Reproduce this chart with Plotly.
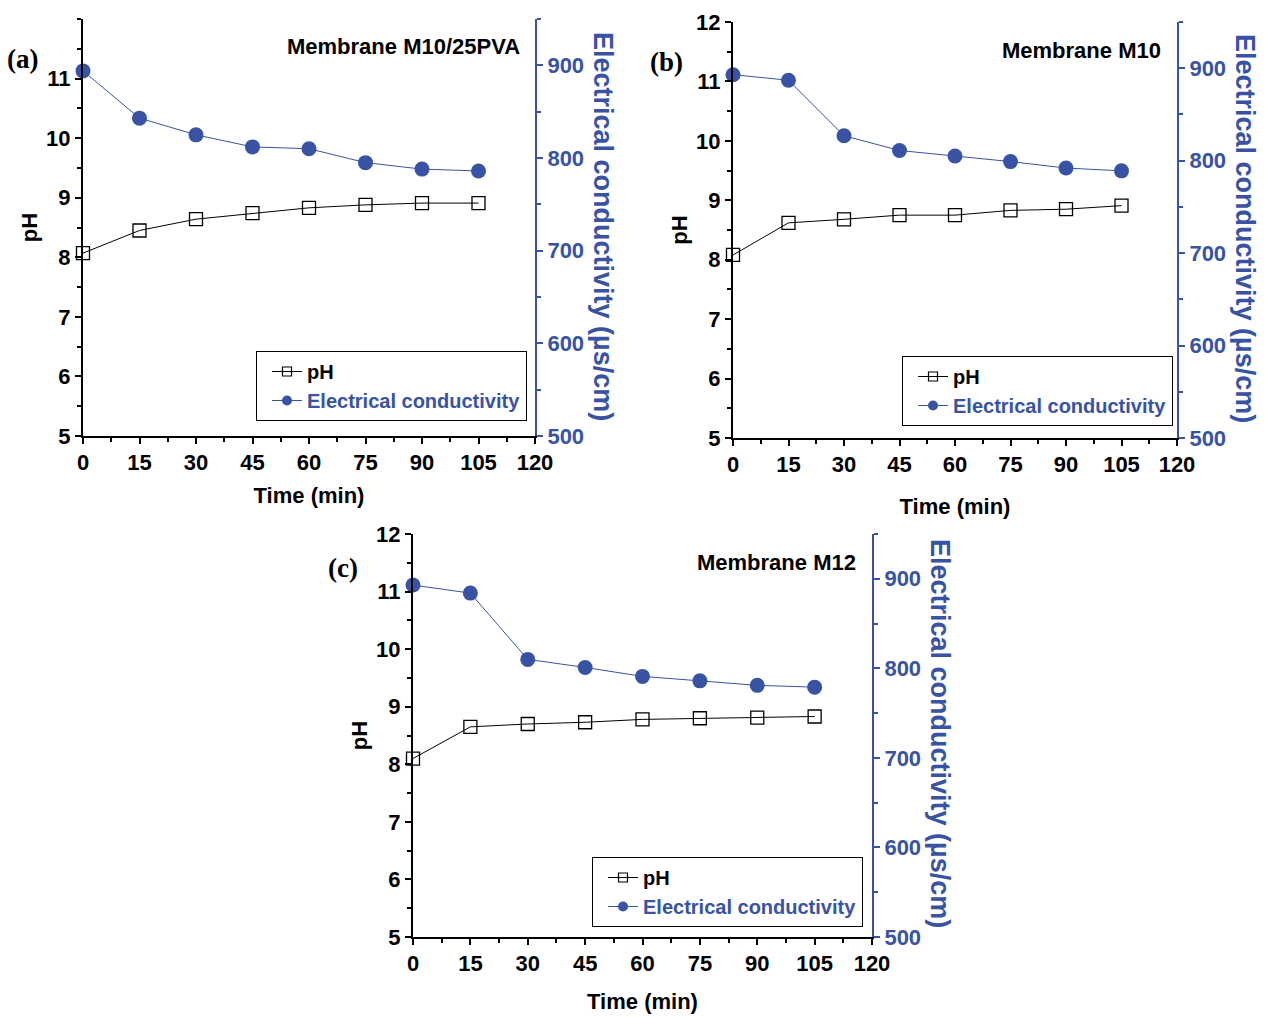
import plotly.graph_objects as go

# Sampling times (min)
time_min = [0, 15, 30, 45, 60, 75, 90, 105]

# Membrane M10/25PVA
ph_m10_25pva = [8.07, 8.45, 8.64, 8.74, 8.83, 8.88, 8.91, 8.91]
ec_m10_25pva = [894, 843, 825, 812, 810, 795, 788, 786]

# Membrane M10
ph_m10 = [8.08, 8.62, 8.68, 8.75, 8.75, 8.83, 8.85, 8.91]
ec_m10 = [893, 887, 827, 811, 805, 799, 792, 789]

# Membrane M12
ph_m12 = [8.10, 8.65, 8.70, 8.73, 8.78, 8.80, 8.81, 8.83]
ec_m12 = [893, 884, 810, 801, 791, 786, 781, 779]

panel_letters = ["(a)", "(b)", "(c)"]
membrane_names = ["Membrane M10/25PVA", "Membrane M10", "Membrane M12"]
ph_series = [ph_m10_25pva, ph_m10, ph_m12]
ec_series = [ec_m10_25pva, ec_m10, ec_m12]
x_ticks = [0, 15, 30, 45, 60, 75, 90, 105, 120]
ph_ticks_a = [5, 6, 7, 8, 9, 10, 11]
ph_ticks_bc = [5, 6, 7, 8, 9, 10, 11, 12]
ec_ticks = [500, 600, 700, 800, 900]

W, H = 1266, 1019
BLUE = "#3953a4"
SANS = "Liberation Sans, Arial, sans-serif"
SERIF = "Liberation Serif, Times New Roman, serif"


def px_x(v):
    return v / W


def px_y(v):
    return 1 - v / H


# plot-area boxes in pixels: (left, right, top, bottom)
boxes = [(83, 535, 19, 436), (733, 1177, 22, 438), (413, 872, 534, 937)]
legend_pos = [(256, 421), (902, 426), (592, 927)]
letter_pos = [(22, 59), (666, 62), (343, 568)]
name_pos = [(522, 47), (1163, 50), (858, 562)]
ec_title_pos = [(603, 226), (1245, 228), (940, 733)]
time_standoff = [13, 22, 18]

tick_font = dict(family=SANS, size=22, color="black", weight="bold")
title_font = dict(family=SANS, size=22, color="black", weight="bold")

fig = go.Figure()
layout = dict(
    width=W, height=H,
    margin=dict(l=0, r=0, t=0, b=0),
    paper_bgcolor="white", plot_bgcolor="white",
    showlegend=True,
    annotations=[],
)

for i in range(3):
    left, right, top, bottom = boxes[i]
    xb_key = "xaxis" if i == 0 else f"xaxis{2*i+1}"
    yl_key = "yaxis" if i == 0 else f"yaxis{2*i+1}"
    xb_ref = "x" if i == 0 else f"x{2*i+1}"
    yl_ref = "y" if i == 0 else f"y{2*i+1}"
    yr_ref = f"y{2*i+2}"
    leg = "legend" if i == 0 else f"legend{i+1}"

    layout[xb_key] = dict(
        domain=[px_x(left), px_x(right)], anchor=yl_ref, range=[0, 120],
        automargin=False,
        tickvals=x_ticks, ticks="outside", ticklen=6, tickwidth=2, tickcolor="black",
        showline=True, linecolor="black", linewidth=2, showgrid=False, zeroline=False,
        tickfont=tick_font,
        minor=dict(dtick=7.5, tick0=0, ticks="outside", ticklen=4, tickwidth=2, tickcolor="black"),
        title=dict(text="Time (min)", font=title_font, standoff=time_standoff[i]),
    )
    layout[f"xaxis{2*i+2}"] = dict(
        overlaying=xb_ref, side="top", anchor=yl_ref, range=[0, 120],
        automargin=False,
        tickvals=x_ticks, ticks="inside", ticklen=6, tickwidth=2, tickcolor="black",
        showticklabels=False, showline=True, linecolor="black", linewidth=2,
        showgrid=False, zeroline=False,
        minor=dict(dtick=7.5, tick0=0, ticks="inside", ticklen=4, tickwidth=2, tickcolor="black"),
    )
    layout[yl_key] = dict(
        domain=[px_y(bottom), px_y(top)], anchor=xb_ref, range=[5, 12],
        automargin=False,
        tickvals=ph_ticks_a if i == 0 else ph_ticks_bc,
        ticks="outside", ticklen=6, tickwidth=2, tickcolor="black",
        showline=True, linecolor="black", linewidth=2, showgrid=False, zeroline=False,
        tickfont=tick_font,
        minor=dict(dtick=0.5, tick0=5, ticks="outside", ticklen=4, tickwidth=2, tickcolor="black"),
        title=dict(text="pH", font=title_font, standoff=2),
    )
    layout[f"yaxis{2*i+2}"] = dict(
        overlaying=yl_ref, side="right", anchor=xb_ref, range=[500, 950],
        automargin=False,
        tickvals=ec_ticks, ticks="outside", ticklen=6, tickwidth=2, tickcolor=BLUE,
        showline=True, linecolor=BLUE, linewidth=2, showgrid=False, zeroline=False,
        tickfont=dict(family=SANS, size=22, color=BLUE, weight="bold"),
        minor=dict(dtick=50, tick0=500, ticks="outside", ticklen=4, tickwidth=2, tickcolor=BLUE),
    )

    lx, lb = legend_pos[i]
    layout[leg] = dict(
        x=px_x(lx), y=px_y(lb), xanchor="left", yanchor="bottom",
        bgcolor="white", bordercolor="black", borderwidth=1,
        font=dict(family=SANS, size=20, color="black", weight="bold"),
        indentation=10, tracegroupgap=0, itemwidth=30,
    )

    # measured series
    fig.add_trace(go.Scatter(
        x=time_min, y=ph_series[i], xaxis=xb_ref, yaxis=yl_ref,
        mode="lines+markers", name="pH", showlegend=False,
        line=dict(color="black", width=1),
        marker=dict(symbol="square-open", size=13, color="black", line=dict(width=1.3)),
        cliponaxis=False,
    ))
    fig.add_trace(go.Scatter(
        x=time_min, y=ec_series[i], xaxis=xb_ref, yaxis=yr_ref,
        mode="lines+markers", name="Electrical conductivity", showlegend=False,
        line=dict(color=BLUE, width=1),
        marker=dict(symbol="circle", size=15, color=BLUE),
        cliponaxis=False,
    ))
    # legend keys with small symbols
    fig.add_trace(go.Scatter(
        x=[None], y=[None], xaxis=xb_ref, yaxis=yl_ref,
        mode="lines+markers", name="pH", legend=leg, hoverinfo="skip",
        line=dict(color="black", width=1),
        marker=dict(symbol="square-open", size=9, color="black", line=dict(width=1.2)),
    ))
    fig.add_trace(go.Scatter(
        x=[None], y=[None], xaxis=xb_ref, yaxis=yr_ref,
        mode="lines+markers", legend=leg, hoverinfo="skip",
        name=f'<span style="color:{BLUE}">Electrical conductivity</span>',
        line=dict(color=BLUE, width=1),
        marker=dict(symbol="circle", size=10, color=BLUE),
    ))

    ax, ay = letter_pos[i]
    layout["annotations"].append(dict(
        text=panel_letters[i], xref="paper", yref="paper", x=px_x(ax), y=px_y(ay),
        xanchor="center", yanchor="middle", showarrow=False,
        font=dict(family=SERIF, size=27, color="black", weight="bold"),
    ))
    nx, ny = name_pos[i]
    layout["annotations"].append(dict(
        text=membrane_names[i], xref="paper", yref="paper", x=px_x(nx), y=px_y(ny),
        xanchor="right", yanchor="middle", showarrow=False,
        font=dict(family=SANS, size=22, color="black", weight="bold"),
    ))
    ex, ey = ec_title_pos[i]
    layout["annotations"].append(dict(
        text="Electrical conductivity (µs/cm)", xref="paper", yref="paper",
        x=px_x(ex), y=px_y(ey), xanchor="center", yanchor="middle",
        textangle=90, showarrow=False,
        font=dict(family=SANS, size=27, color=BLUE, weight="bold"),
    ))

fig.update_layout(**layout)
fig.write_html("out.html")
